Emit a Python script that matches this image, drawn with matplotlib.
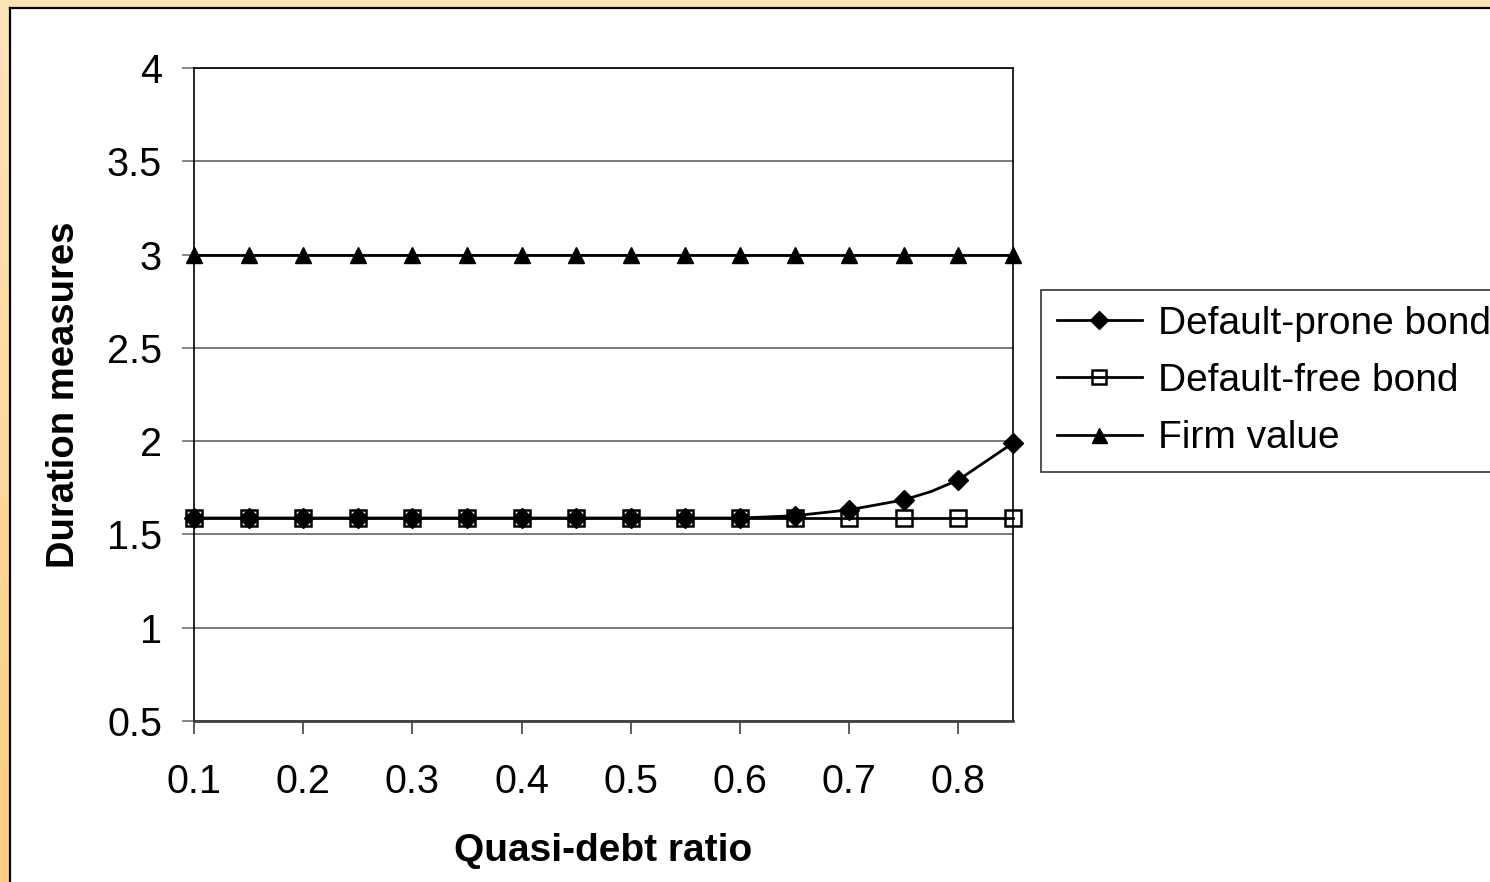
import numpy as np
import matplotlib
matplotlib.use("Agg")
import matplotlib.pyplot as plt
from matplotlib.patches import Rectangle
from matplotlib.lines import Line2D

plt.rcParams["font.family"] = ["Liberation Sans", "DejaVu Sans"]

# quasi-debt ratio points (markers)
ratio = [0.1, 0.15, 0.2, 0.25, 0.3, 0.35, 0.4, 0.45, 0.5, 0.55, 0.6, 0.65, 0.7, 0.75, 0.8, 0.85]
# default-prone line has one extra unmarked point at 0.775
prone_x = [0.1, 0.15, 0.2, 0.25, 0.3, 0.35, 0.4, 0.45, 0.5, 0.55, 0.6, 0.65, 0.7, 0.75, 0.775, 0.8, 0.85]
prone = [1.588, 1.588, 1.588, 1.588, 1.588, 1.588, 1.588, 1.588, 1.588, 1.588, 1.588,
         1.600, 1.632, 1.685, 1.730, 1.792, 1.990]
free = [1.588] * 16
firm = [3.0] * 16
xticks = [0.1, 0.2, 0.3, 0.4, 0.5, 0.6, 0.7, 0.8]
yticks = [0.5, 1, 1.5, 2, 2.5, 3, 3.5, 4]

W, H = 1490, 882
fig = plt.figure(figsize=(W / 100, H / 100), dpi=100)

# orange frame background with a light gradient
bg = fig.add_axes([0, 0, 1, 1], zorder=-10)
bg.axis("off")
c_top = np.array([255, 228, 184]) / 255
c_bot = np.array([252, 205, 126]) / 255
t = np.linspace(0, 1, 256)[:, None]
grad = (c_top[None, :] * (1 - t) + c_bot[None, :] * t)[:, None, :]
bg.imshow(grad, extent=[0, 1, 0, 1], aspect="auto", origin="upper")
x0, y0 = 10 / W, 1 - 8 / H
bg.add_patch(Rectangle((x0, 0), 1 - x0, y0, facecolor="white", edgecolor="none"))
bg.add_line(Line2D([x0, 1], [y0, y0], color="black", lw=1.6))
bg.add_line(Line2D([x0, x0], [0, y0], color="black", lw=1.6))
bg.set_xlim(0, 1); bg.set_ylim(0, 1)

ax = fig.add_axes([194 / W, 1 - 721 / H, (1013 - 194) / W, (721 - 68) / H])
ax.set_facecolor("none")

ax.plot(prone_x, prone, "-", color="black", lw=2, marker="D", ms=10, clip_on=False,
        markevery=[i for i in range(len(prone_x)) if i != 14], label="Default-prone bond", zorder=3)
ax.plot(ratio, free, "-", color="black", lw=2, marker="s", ms=11, mfc="none", mew=1.8,
        clip_on=False, label="Default-free bond", zorder=4)
ax.plot(ratio, firm, "-", color="black", lw=2, marker="^", ms=12, clip_on=False,
        label="Firm value", zorder=3)

ax.set_xlim(0.1, 0.85)
ax.set_ylim(0.5, 4)
ax.set_xticks(xticks)
ax.set_xticklabels([f"{v:g}" for v in xticks])
ax.set_yticks(yticks)
ax.set_yticklabels([f"{v:g}" for v in yticks])
ax.grid(axis="y", color="#707070", lw=1.3)
ax.set_axisbelow(True)
for s in ["left", "right", "top"]:
    ax.spines[s].set_color("black"); ax.spines[s].set_linewidth(1.2)
ax.spines["bottom"].set_color("#404040"); ax.spines["bottom"].set_linewidth(2)
ax.tick_params(axis="y", direction="out", length=9, width=1.2, color="#707070",
               labelsize=28.5, pad=14)
ax.tick_params(axis="x", direction="out", length=9, width=1.2, color="#404040",
               labelsize=28.5, pad=21)
ax.set_xlabel("Quasi-debt ratio", fontsize=28, fontweight="bold", labelpad=23)
ax.set_ylabel("Duration measures", fontsize=27.5, fontweight="bold", labelpad=18)

leg = ax.legend(loc="upper left", bbox_to_anchor=(1041 / W, 1 - 290 / H),
                bbox_transform=fig.transFigure, fontsize=28, frameon=True, fancybox=False,
                borderaxespad=0, handlelength=2.2, handletextpad=0.4, labelspacing=0.55,
                borderpad=0.4, markerscale=0.9)
leg.get_frame().set_edgecolor("black")
leg.get_frame().set_linewidth(1.2)

fig.savefig("out.png", dpi=100)
